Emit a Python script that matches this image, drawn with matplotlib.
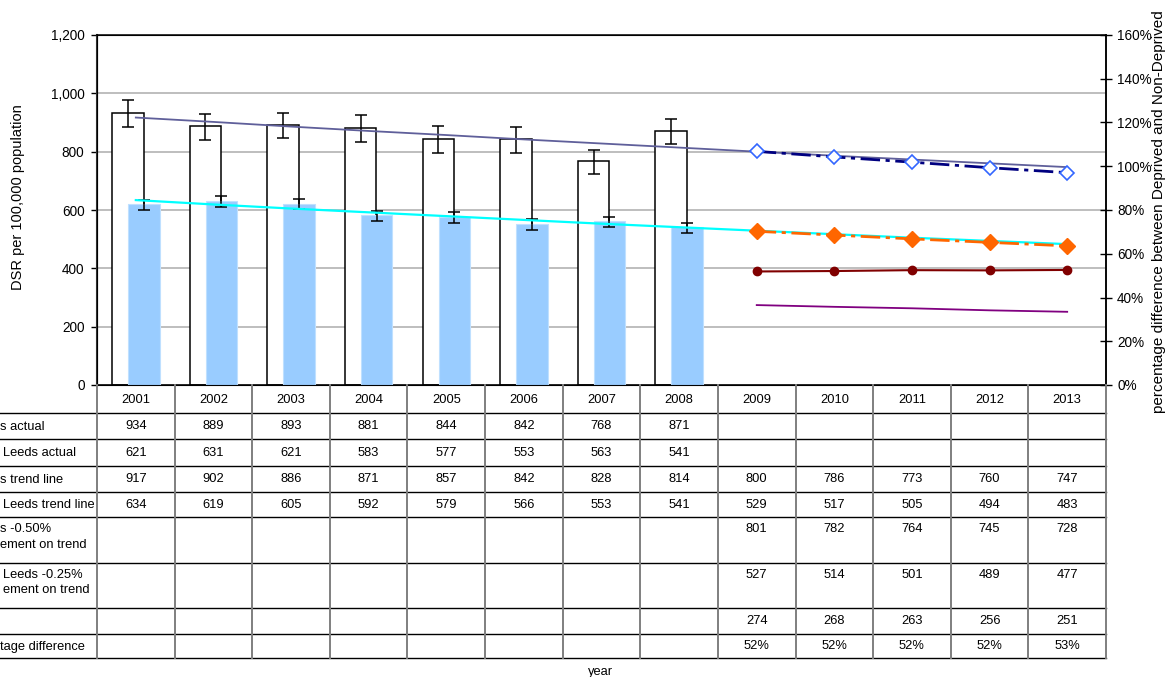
import numpy as np
import matplotlib
matplotlib.use("Agg")
import matplotlib.pyplot as plt
from matplotlib.ticker import FuncFormatter, MultipleLocator

plt.rcParams['font.family'] = ['Liberation Sans', 'DejaVu Sans']

# ---------------- data ----------------
years = [2001, 2002, 2003, 2004, 2005, 2006, 2007, 2008, 2009, 2010, 2011, 2012, 2013]
dep_actual = [934, 889, 893, 881, 844, 842, 768, 871]
dep_lci = [885, 841, 846, 833, 796, 795, 722, 826]
dep_uci = [977, 930, 934, 927, 889, 885, 807, 913]
nondep_actual = [621, 631, 621, 583, 577, 553, 563, 541]
nondep_lci = [601, 610, 602, 563, 555, 532, 543, 521]
nondep_uci = [635, 648, 637, 598, 593, 568, 577, 555]
dep_trend = [917, 902, 886, 871, 857, 842, 828, 814, 800, 786, 773, 760, 747]
nondep_trend = [634, 619, 605, 592, 579, 566, 553, 541, 529, 517, 505, 494, 483]
dep_improve = [801, 782, 764, 745, 728]
nondep_improve = [527, 514, 501, 489, 477]
gap = [274, 268, 263, 256, 251]
pct_diff = [51.9, 52.1, 52.5, 52.4, 52.6]

row_labels = [("s actual", 0), ("Leeds actual", 3), ("s trend line", 0), ("Leeds trend line", 3),
              ("s -0.50%\nement on trend", 0), ("Leeds -0.25%\nement on trend", 3),
              ("", 0), ("tage difference", 0)]

# ---------------- layout ----------------
W, H = 1170, 677
fig = plt.figure(figsize=(W / 100, H / 100), dpi=100)
L, R, T, B = 97, 1106, 35, 385
ax = fig.add_axes([L / W, 1 - B / H, (R - L) / W, (B - T) / H])
n = len(years)
idx = np.arange(n)
ax.set_xlim(-0.5, n - 0.5)
ax.set_ylim(0, 1200)

off, bw = 0.103, 0.405
na = len(dep_actual)
xa = idx[:na]
dep_err = [np.array(dep_actual) - np.array(dep_lci), np.array(dep_uci) - np.array(dep_actual)]
nd_err = [np.array(nondep_actual) - np.array(nondep_lci), np.array(nondep_uci) - np.array(nondep_actual)]
ekw = dict(ecolor='black', elinewidth=1.1, capsize=4, capthick=1.1)
ax.bar(xa - off, dep_actual, width=bw, color='white', edgecolor='black', linewidth=1.1,
       yerr=dep_err, error_kw=ekw, zorder=2)
ax.bar(xa + off, nondep_actual, width=bw, color='#99CCFF', edgecolor='#BFE0FF', linewidth=0.8,
       yerr=nd_err, error_kw=ekw, zorder=3)

ax.plot(idx, dep_trend, color='#5F5F9A', lw=1.3, zorder=4)
ax.plot(idx, nondep_trend, color='#00FFFF', lw=1.6, zorder=4)
xp = idx[na:]
ax.plot(xp, dep_improve, color='#000080', lw=2, ls=(0, (7, 2, 1.5, 2)), marker='D', ms=7.5,
        mfc='white', mec='#3366FF', mew=1.2, zorder=5)
ax.plot(xp, nondep_improve, color='#FF6600', lw=2, ls=(0, (7, 2, 1.5, 2)), marker='D', ms=8,
        mfc='#FF6600', mec='#FF6600', zorder=5)
ax.plot(xp, gap, color='#800080', lw=1.3, zorder=5)

ax.yaxis.set_major_locator(MultipleLocator(200))
ax.yaxis.set_major_formatter(FuncFormatter(lambda v, p: f"{v:,.0f}"))
ax.yaxis.grid(True, color='#B3B3B3', linewidth=1.2)
ax.set_axisbelow(True)
ax.set_xticks([])
ax.tick_params(axis='y', direction='out', length=4, width=1, labelsize=9.8, pad=5)
for s in ['top', 'bottom', 'right']:
    ax.spines[s].set_color('black')
    ax.spines[s].set_linewidth(1.1)
ax.spines['left'].set_color('#333333')
ax.spines['left'].set_linewidth(1.5)

ax2 = ax.twinx()
ax2.set_ylim(0, 160)
ax2.plot(xp, pct_diff, color='#800000', lw=1.5, marker='o', ms=6, zorder=6)
ax2.yaxis.set_major_locator(MultipleLocator(20))
ax2.yaxis.set_major_formatter(FuncFormatter(lambda v, p: f"{v:.0f}%"))
ax2.tick_params(axis='y', direction='inout', length=8, width=1, labelsize=9.8, pad=4)
ax2.spines['right'].set_linewidth(1.1)
ax2.set_xticks([])

# ---------------- table ----------------
bounds = [385, 412.5, 439.3, 465.7, 491.7, 517.3, 562.7, 608.3, 634, 658.3]
tax = fig.add_axes([L / W, 1 - bounds[-1] / H, (R - L) / W, (bounds[-1] - bounds[0]) / H])
tax.set_xlim(ax.get_xlim())
tax.set_ylim(bounds[-1], bounds[0])
tax.axis('off')
xleft = -0.5 - 2.0
for b in bounds[1:]:
    tax.plot([xleft, n - 0.5], [b, b], color='black', lw=1, clip_on=False)
for k in range(n + 1):
    tax.plot([k - 0.5, k - 0.5], [bounds[0], bounds[-1]], color='#7F7F7F', lw=1.4, clip_on=False)

fs = 9.3
for i, y in enumerate(years):
    tax.text(i, (bounds[0] + bounds[1]) / 2 + 1, str(y), ha='center', va='center', fontsize=fs)

rows = [
    (0, dep_actual), (0, nondep_actual), (0, dep_trend), (0, nondep_trend),
    (na, dep_improve), (na, nondep_improve), (na, gap), (na, [f"{v:.0f}%" for v in pct_diff]),
]
for r, (start, vals) in enumerate(rows):
    top, bot = bounds[r + 1], bounds[r + 2]
    if bot - top > 35:
        ytxt = top + 12
    else:
        ytxt = (top + bot) / 2
    for j, v in enumerate(vals):
        tax.text(start + j, ytxt, str(v), ha='center', va='center', fontsize=fs)

for r, (lab, xo) in enumerate(row_labels):
    top, bot = bounds[r + 1], bounds[r + 2]
    if "\n" in lab:
        fig.text(xo / W, 1 - (top + 6) / H, lab, ha='left', va='top', fontsize=fs, linespacing=1.4)
    else:
        fig.text(xo / W, 1 - ((top + bot) / 2 + 1) / H, lab, ha='left', va='center', fontsize=fs)

fig.text(601 / W, 1 - 672 / H, 'year', ha='center', va='center', fontsize=fs)
fig.text(18 / W, 1 - 197 / H, 'DSR per 100,000 population', rotation=90, ha='center', va='center', fontsize=10.5)
fig.text(1159 / W, 1 - 212 / H, 'percentage difference between Deprived and Non-Deprived', rotation=90,
         ha='center', va='center', fontsize=11)

fig.savefig('out.png', dpi=100)
